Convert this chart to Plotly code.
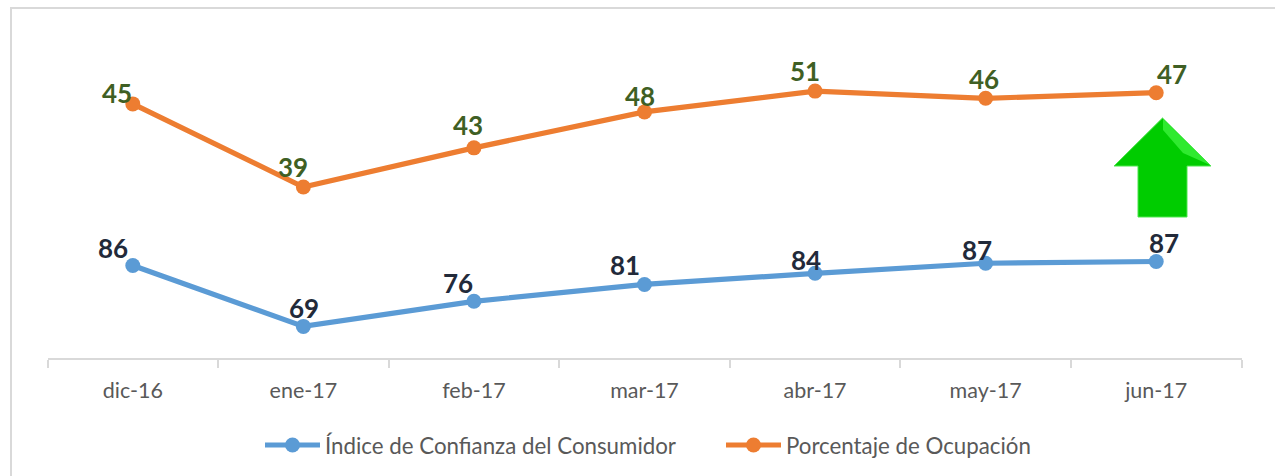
import plotly.graph_objects as go

W, H = 1275, 476

months = ["dic-16", "ene-17", "feb-17", "mar-17", "abr-17", "may-17", "jun-17"]
confianza = [85.9, 68.9, 75.9, 80.6, 83.7, 86.5, 87.0]
confianza_labels = ["86", "69", "76", "81", "84", "87", "87"]
ocupacion = [49.4, 39.0, 43.9, 48.4, 51.0, 50.1, 50.8]
ocupacion_labels = ["45", "39", "43", "48", "51", "46", "47"]

BLUE, ORANGE = "#5B9BD5", "#ED7D31"
FONT = "Lato"


def px(x):
    return x / W


def py(y):
    return 1 - y / H


def poly(points):
    return "M" + " L".join(f"{px(x):.5f},{py(y):.5f}" for x, y in points) + " Z"


fig = go.Figure()
fig.add_trace(go.Scatter(x=months, y=confianza, name="Índice de Confianza del Consumidor",
                         mode="lines+markers", line=dict(color=BLUE, width=5.2),
                         marker=dict(color=BLUE, size=15)))
fig.add_trace(go.Scatter(x=months, y=ocupacion, name="Porcentaje de Ocupación", yaxis="y2",
                         mode="lines+markers", line=dict(color=ORANGE, width=5.2),
                         marker=dict(color=ORANGE, size=15)))

blue_off = [(-20, 17), (1, 18), (-16, 18), (-20, 19), (-9, 13), (-9, 13), (8, 18)]
orange_off = [(-16, 11), (-10, 20), (-6, 23), (-5, 16), (-10, 20), (-2, 19), (16, 19)]
annotations = []
for m, v, t, (dx, dy) in zip(months, confianza, confianza_labels, blue_off):
    annotations.append(dict(x=m, y=v, xref="x", yref="y", text=t, showarrow=False,
                            xshift=dx, yshift=dy,
                            font=dict(family=FONT, size=26, color="#222A3A", weight="bold")))
for m, v, t, (dx, dy) in zip(months, ocupacion, ocupacion_labels, orange_off):
    annotations.append(dict(x=m, y=v, xref="x", yref="y2", text=t, showarrow=False,
                            xshift=dx, yshift=dy,
                            font=dict(family=FONT, size=26, color="#3F5F24", weight="bold")))

shapes = [
    dict(type="rect", xref="paper", yref="paper", x0=px(11), x1=px(1290), y0=py(8), y1=py(490),
         line=dict(color="#D9D9D9", width=2), fillcolor="rgba(0,0,0,0)", layer="below"),
    dict(type="path", xref="paper", yref="paper",
         path=poly([(1162.5, 118), (1211, 166), (1187, 166), (1187, 217), (1138, 217), (1138, 166), (1114, 166)]),
         fillcolor="#00CC00", line=dict(color="#4CE64C", width=1)),
    dict(type="path", xref="paper", yref="paper",
         path=poly([(1163, 119), (1210, 165), (1183, 153), (1163, 130)]),
         fillcolor="#2FEA2F", line=dict(width=0)),
]

fig.update_layout(
    width=W, height=H, margin=dict(l=0, r=0, t=0, b=0),
    paper_bgcolor="white", plot_bgcolor="white",
    font=dict(family=FONT, color="#595959"),
    xaxis=dict(domain=[px(47.5), px(1241.5)], type="category", categoryorder="array", categoryarray=months,
               range=[-0.5, 6.5], showgrid=False, showline=True, linecolor="#D9D9D9", linewidth=2,
               ticks="outside", tickcolor="#D9D9D9", ticklen=8, tickwidth=2, tickson="boundaries",
               ticklabelstandoff=12,
               tickfont=dict(size=21.5, color="#595959"), anchor="y"),
    yaxis=dict(domain=[py(358), py(20)], range=[60.1, 154.3], visible=False, showgrid=False),
    yaxis2=dict(domain=[py(358), py(20)], range=[17.6, 59.9], overlaying="y", visible=False, showgrid=False),
    legend=dict(orientation="h", x=px(260), y=py(445), xanchor="left", yanchor="middle",
                itemwidth=55, entrywidth=391, entrywidthmode="pixels",
                font=dict(size=22.3, color="#595959"), bgcolor="rgba(0,0,0,0)"),
    annotations=annotations, shapes=shapes,
)
fig.write_html("out.html", config={"displayModeBar": False},
               post_script="document.body.style.margin='0';document.body.style.overflow='hidden';")
